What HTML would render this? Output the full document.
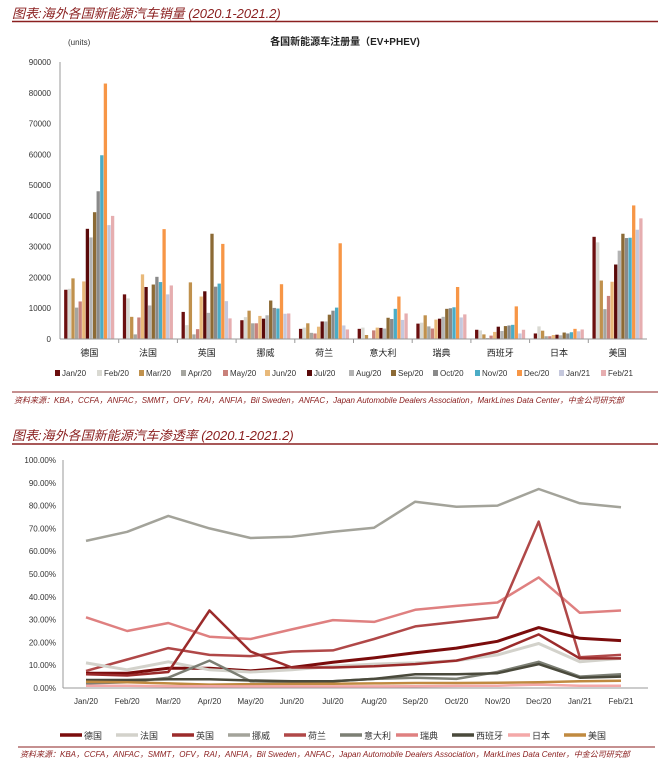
<!DOCTYPE html>
<html><head><meta charset="utf-8">
<style>
body{margin:0;background:#fff;width:662px;height:771px;overflow:hidden}
svg{display:block}
text{font-family:"Liberation Sans","Noto Sans CJK SC",sans-serif}
</style></head>
<body>
<svg id="s" width="662" height="771" xmlns="http://www.w3.org/2000/svg">
<text x="12" y="18" font-size="13" font-style="italic" fill="#8b2020">图表:海外各国新能源汽车销量 (2020.1-2021.2)</text>
<line x1="12" y1="21.5" x2="658" y2="21.5" stroke="#8b2020" stroke-width="1.5"/>
<text x="68" y="45" font-size="8" fill="#333">(units)</text>
<text x="345" y="45" font-size="10" font-weight="bold" text-anchor="middle" fill="#222">各国新能源车注册量（EV+PHEV)</text>
<g id="c1"></g>
<line x1="12" y1="392" x2="658" y2="392" stroke="#8b2020" stroke-width="1"/>
<text x="14" y="403" font-size="8" font-style="italic" fill="#8b2020">资料来源：KBA，CCFA，ANFAC，SMMT，OFV，RAI，ANFIA，Bil Sweden，ANFAC，Japan Automobile Dealers Association，MarkLines Data Center，中金公司研究部</text>
<text x="12" y="440" font-size="13" font-style="italic" fill="#8b2020">图表:海外各国新能源汽车渗透率 (2020.1-2021.2)</text>
<line x1="12" y1="444" x2="658" y2="444" stroke="#8b2020" stroke-width="1.5"/>
<g id="c2"></g>
<line x1="18" y1="747" x2="655" y2="747" stroke="#8b2020" stroke-width="1"/>
<text x="20" y="757" font-size="8" font-style="italic" fill="#8b2020">资料来源：KBA，CCFA，ANFAC，SMMT，OFV，RAI，ANFIA，Bil Sweden，ANFAC，Japan Automobile Dealers Association，MarkLines Data Center，中金公司研究部</text>
</svg>
<script>
const countries=["德国","法国","英国","挪威","荷兰","意大利","瑞典","西班牙","日本","美国"];
const months=["Jan/20","Feb/20","Mar/20","Apr/20","May/20","Jun/20","Jul/20","Aug/20","Sep/20","Oct/20","Nov/20","Dec/20","Jan/21","Feb/21"];
const yTicks1=[0,10000,20000,30000,40000,50000,60000,70000,80000,90000];
const de=[16000,16300,19700,10200,12200,18700,35800,33000,41200,48000,59700,83000,37000,40000];
const fr=[14500,13200,7200,1500,7000,21000,16900,10900,17700,20200,18500,35700,14500,17400];
const uk=[8800,4500,18400,1500,3200,13800,15500,8500,34200,17000,18000,30900,12300,6700];
const no=[6100,7100,9200,5100,5100,7500,6600,7700,12500,10100,9900,17800,8200,8300];
const nl=[3300,3700,5100,2000,1800,4000,5700,5700,7900,9200,10200,31100,4400,3100];
const it=[3300,3700,1300,200,2800,3700,3600,3400,6900,6500,9800,13800,6200,8300];
const se=[5000,5300,7700,4100,3400,6300,6600,7200,9800,10000,10300,16900,7000,8000];
const es=[3000,2800,1500,300,1100,2300,4000,2600,4200,4400,4600,10600,1800,3000];
const jp=[1800,4100,2700,900,900,1300,1400,1200,2100,1800,2200,3300,2500,3100];
const us=[33200,31400,19000,9700,14000,18600,24200,28700,34200,32800,32900,43400,35500,39200];
const sales=[de,fr,uk,no,nl,it,se,es,jp,us];
const monthColors=["#6b0f0f","#d9d9d2","#c0914d","#a6a6a0","#c9817a","#e8b97a","#5a0a0a","#b3b3b3","#8c6a35","#8a8a8a","#4bacc6","#f79646","#c5c8dd","#e6aeb0"];

const pDe=[6.5,6.5,8.7,8.7,7.5,9,11.3,13.2,15.5,17.5,20.5,26.5,21.8,20.8];
const pFr=[11,8,11.5,8,7,8,9.5,10.5,11,12,14.5,19.5,11.5,13];
const pUk=[6,5.5,7,34,16,9,9,9.5,10.5,12,16,23.5,13,13];
const pNo=[64.5,68.5,75.5,70,65.8,66.3,68.5,70.3,81.7,79.5,80,87.3,81,79.3];
const pNl=[7.5,12.5,17.5,14.5,14,16,16.5,21.5,27,29,31,73,13.5,14.5];
const pIt=[2,2.5,4.5,12,3,2.5,3,4,4.5,4,7,11.5,5,6];
const pSe=[31,25,28.5,22.5,21.5,25.7,29.8,29,34.3,36,37.5,48.5,33,34];
const pEs=[3.5,3.5,3.8,3.8,3.3,3,3,4,6,6,6.5,10.5,4.5,5];
const pJp=[1,1,0.8,0.8,0.7,0.7,0.7,0.7,0.8,0.9,1,1.5,1,1];
const pUs=[2.7,2.5,2,1.5,1.7,1.8,1.9,2,2.2,2.2,2.3,2.5,3,3.2];
const pen=[pDe,pFr,pUk,pNo,pNl,pIt,pSe,pEs,pJp,pUs];
const yTicks2=[0,10,20,30,40,50,60,70,80,90,100];
const lineColors=["#7b0c0c","#d3d2cb","#9b2b2b","#a3a39a","#b04848","#7c7f74","#df8080","#4a4a3c","#f4a8a8","#c08a40"];
const lineWidths=[3,3,2.5,2.5,2.5,2.5,2.5,2.5,2.5,2.5];

const NS="http://www.w3.org/2000/svg";
function mk(p,t,a){const e=document.createElementNS(NS,t);for(const k in a)e.setAttribute(k,a[k]);p.appendChild(e);return e;}

// chart 1
const c1=document.getElementById('c1');
const X0=60,X1=647,Y0=339,Y1=62;
const y1=v=>Y0-(v/90000)*(Y0-Y1);
const gw=(X1-X0)/countries.length;
yTicks1.forEach(t=>{const e=mk(c1,'text',{x:51,y:y1(t)+3,'font-size':8,'text-anchor':'end',fill:'#333'});e.textContent=t;

});
const ax=mk(c1,'line',{x1:X0,y1:Y1,x2:X0,y2:Y0,stroke:'#999'});


const bw=3.6;
countries.forEach((c,ci)=>{
  const gx=X0+ci*gw, cx=gx+gw/2, start=cx-bw*months.length/2;
  sales[ci].forEach((v,mi)=>{
    const r=mk(c1,'rect',{x:start+mi*bw,y:y1(v),width:bw-0.3,height:Y0-y1(v),fill:monthColors[mi]});
    
    
  });
  const t=mk(c1,'text',{x:cx,y:356,'font-size':9,'text-anchor':'middle',fill:'#222'});t.textContent=c;
  
  
  if(ci>0){const s=mk(c1,'line',{x1:gx,y1:Y0,x2:gx,y2:Y0+4,stroke:'#999'});
  
  }
});
const xa=mk(c1,'line',{x1:X0,y1:Y0,x2:X1,y2:Y0,stroke:'#999'});


months.forEach((m,i)=>{
  const lx=55+i*42;
  const r=mk(c1,'rect',{x:lx,y:370,width:5,height:6,fill:monthColors[i]});
  
  
  const t=mk(c1,'text',{x:lx+7,y:376,'font-size':8,fill:'#333'});t.textContent=m;
  
  
});

// chart 2
const c2=document.getElementById('c2');
const PX0=63,PX1=648,PY0=688,PY1=460;
const x2=i=>86+i*(621-86)/(months.length-1);
const y2=v=>PY0-(v/100)*(PY0-PY1);
yTicks2.forEach(t=>{const e=mk(c2,'text',{x:56,y:y2(t)+3,'font-size':8,'text-anchor':'end',fill:'#333'});e.textContent=t.toFixed(2)+'%';

});
const ay=mk(c2,'line',{x1:PX0,y1:PY1,x2:PX0,y2:PY0,stroke:'#999'});


const axx=mk(c2,'line',{x1:PX0,y1:PY0,x2:PX1,y2:PY0,stroke:'#999'});


months.forEach((m,i)=>{const t=mk(c2,'text',{x:x2(i),y:704,'font-size':8,'text-anchor':'middle',fill:'#333'});t.textContent=m;

});
const order=[3,6,4,0,1,2,5,7,9,8];
order.forEach(ci=>{
  const d=pen[ci].map((v,i)=>(i?'L':'M')+x2(i).toFixed(1)+','+y2(v).toFixed(1)).join('');
  const p=mk(c2,'path',{d:d,fill:'none',stroke:lineColors[ci],'stroke-width':lineWidths[ci],'stroke-linejoin':'round'});
  
  
});
countries.forEach((c,i)=>{
  const lx=60+i*56;
  const l=mk(c2,'line',{x1:lx,y1:735,x2:lx+22,y2:735,stroke:lineColors[i],'stroke-width':3.5});
  
  
  const t=mk(c2,'text',{x:lx+24,y:739,'font-size':9,fill:'#333'});t.textContent=c;
  
  
});
</script>
</body></html>
